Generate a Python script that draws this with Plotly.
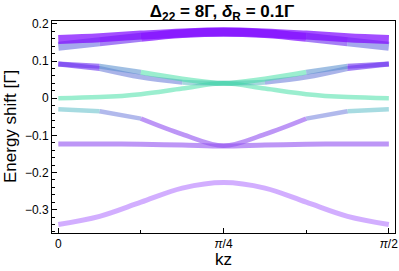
import math
import plotly.graph_objects as go

# ---- data ----
kz = [i * math.pi / 16 for i in range(9)]
top_a   = [0.158, 0.163, 0.170, 0.176, 0.179, 0.176, 0.170, 0.163, 0.158]
top_b   = [0.140, 0.152, 0.164, 0.174, 0.178, 0.174, 0.164, 0.152, 0.140]
upper_g = [0.092, 0.086, 0.070, 0.052, 0.040, 0.052, 0.070, 0.086, 0.092]
lower_b = [0.092, 0.080, 0.057, 0.043, 0.040, 0.043, 0.057, 0.080, 0.092]
green0  = [0.000, 0.003, 0.011, 0.026, 0.040, 0.026, 0.011, 0.003, 0.000]
teal    = [-0.030, -0.035, -0.055, -0.097, -0.128, -0.097, -0.055, -0.035, -0.030]
flat    = [-0.123, -0.123, -0.124, -0.126, -0.129, -0.126, -0.124, -0.123, -0.123]
bottom  = [-0.340, -0.318, -0.280, -0.242, -0.227, -0.242, -0.280, -0.318, -0.340]

x_tickvals = [0, math.pi / 4, math.pi / 2]
x_ticktext = ["0", "<i>π</i>/4", "<i>π</i>/2"]

# ---- styles ----
PURPLE = "rgba(128,10,255,0.72)"
PB_MIX = "rgba(118,60,240,0.66)"
BLUISH = "rgba(105,110,225,0.6)"
GREEN = "rgba(55,222,160,0.5)"
TEALC = "rgba(95,190,200,0.55)"
TP_MIX = "rgba(120,135,222,0.58)"
LPURP = "rgba(145,80,240,0.6)"
BPURP = "rgba(180,120,255,0.6)"
VIO = "rgba(115,60,240,0.65)"
VG_MIX = "rgba(85,140,205,0.56)"
BG = "rgba(100,118,215,0.55)"
BG_MIX = "rgba(80,175,190,0.5)"

# (values, width, [(i0, i1, color), ...])
lines = [
    (bottom, 5, [(0, 8, BPURP)]),
    (flat, 5, [(0, 8, LPURP)]),
    (teal, 4.5, [(0, 1, TEALC), (1, 2, TP_MIX), (2, 6, LPURP), (6, 7, TP_MIX), (7, 8, TEALC)]),
    (green0, 4.5, [(0, 8, GREEN)]),
    (lower_b, 5, [(0, 1, VIO), (1, 3, BG), (3, 5, BG_MIX), (5, 7, BG), (7, 8, VIO)]),
    (upper_g, 5, [(0, 1, VIO), (1, 2, VG_MIX), (2, 6, GREEN), (6, 7, VG_MIX), (7, 8, VIO)]),
    (top_b, 9, [(0, 1, BLUISH), (1, 2, PB_MIX), (2, 6, PURPLE), (6, 7, PB_MIX), (7, 8, BLUISH)]),
    (top_a, 9, [(0, 8, PURPLE)]),
]

fig = go.Figure()
for vals, w, segs in lines:
    for i0, i1, col in segs:
        fig.add_trace(go.Scatter(
            x=kz[i0:i1 + 1], y=vals[i0:i1 + 1], mode="lines",
            line=dict(color=col, width=w, shape="spline", smoothing=1.0),
            hoverinfo="skip", showlegend=False))

FONT = "Liberation Sans"
axis_font = dict(family=FONT, size=12, color="black")
fig.update_layout(
    width=399, height=271,
    margin=dict(l=52, r=4, t=21, b=38, autoexpand=False),
    paper_bgcolor="white", plot_bgcolor="white",
    title=dict(text="<b>Δ<sub>22</sub> = 8Γ, <i>δ</i><sub>R</sub> = 0.1Γ</b>",
               x=222 / 399, xanchor="center", y=1 - 11 / 271, yanchor="middle",
               font=dict(family=FONT, size=17, color="black")),
    xaxis=dict(range=[-0.030, 1.600], tickvals=x_tickvals, ticktext=x_ticktext,
               ticks="inside", ticklen=5, tickcolor="black", showgrid=False,
               zeroline=False, showline=True, linecolor="black", mirror=True,
               tickfont=axis_font, automargin=False,
               minor=dict(tick0=0, dtick=math.pi / 8, ticks="inside", ticklen=3, tickcolor="black")),
    yaxis=dict(range=[-0.363, 0.208], dtick=0.1, tick0=0,
               ticks="inside", ticklen=5, tickcolor="black", showgrid=False,
               zeroline=False, showline=True, linecolor="black", mirror=True,
               tickfont=axis_font, automargin=False,
               minor=dict(dtick=0.02, ticks="inside", ticklen=3, tickcolor="black")),
    annotations=[
        dict(text="kz", xref="paper", yref="paper", x=0.5, y=-26 / 212,
             xanchor="center", yanchor="middle", showarrow=False,
             font=dict(family=FONT, size=17, color="black")),
        dict(text="Energy shift [Γ]", xref="paper", yref="paper", x=-42 / 343, y=0.5,
             xanchor="center", yanchor="middle", textangle=-90, showarrow=False,
             font=dict(family=FONT, size=17, color="black")),
    ],
)

fig.write_html("out.html", config={"displayModeBar": False},
               post_script="document.body.style.margin='0';document.body.style.padding='0';")
